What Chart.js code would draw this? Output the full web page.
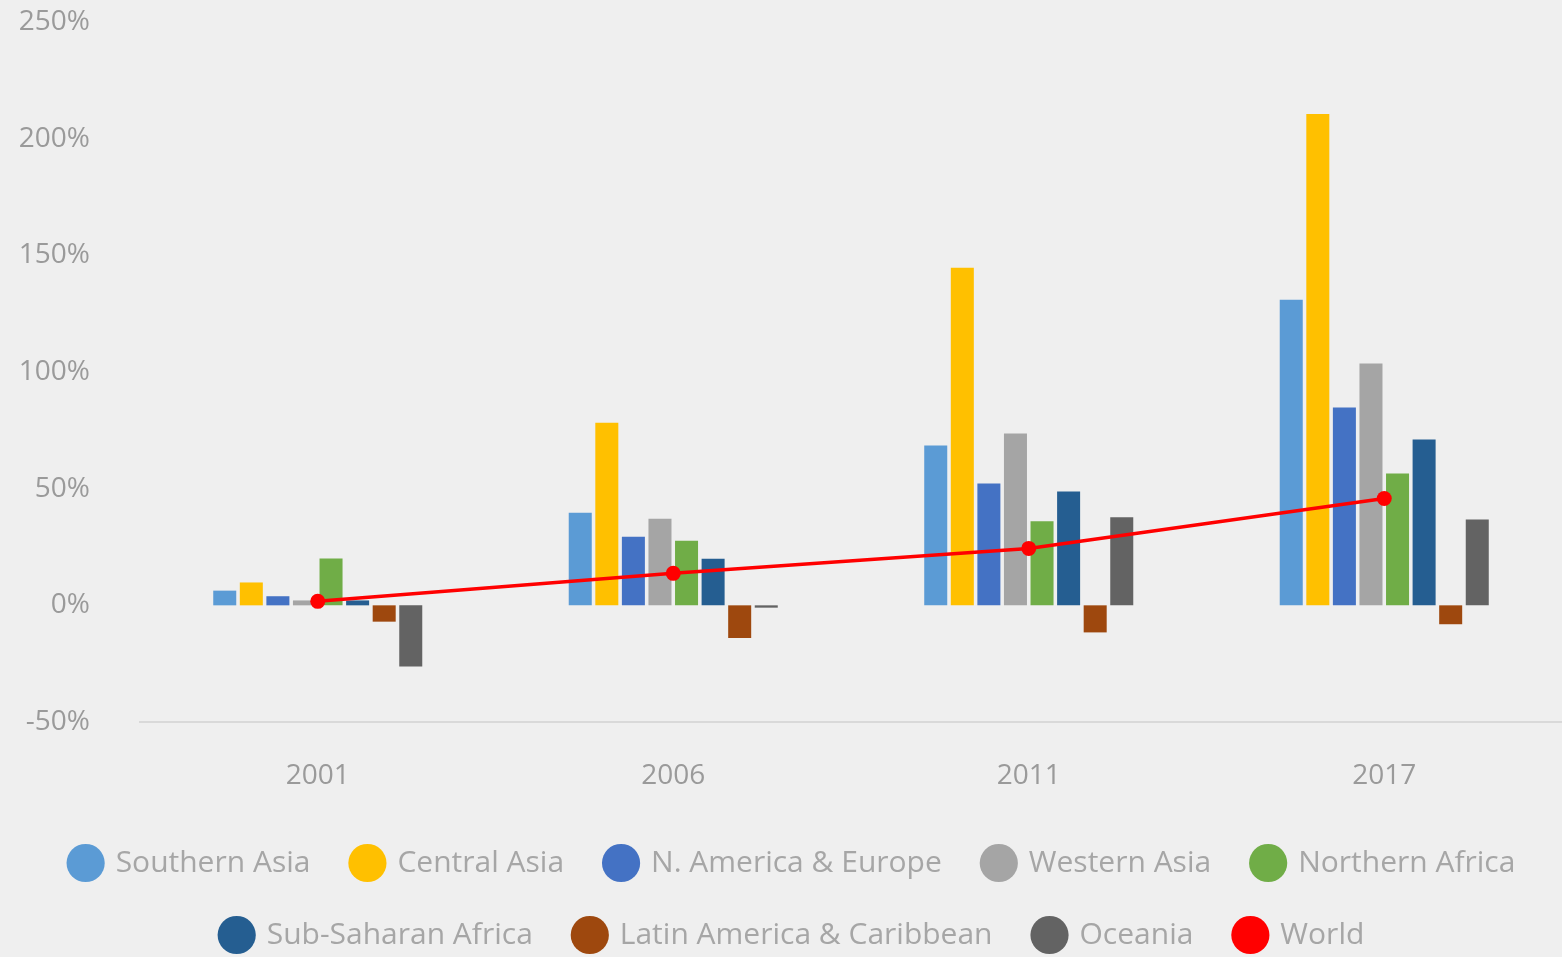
<!DOCTYPE html>
<html>
<head>
<meta charset="utf-8">
<script src="https://cdn.jsdelivr.net/npm/chart.js@4"></script>
<style>
  html, body { margin: 0; padding: 0; background: #efefef; overflow: hidden; }
  #wrap { width: 1562px; height: 957px; position: relative; }
  canvas { display: block; }
</style>
</head>
<body>
<div id="wrap"><canvas id="canvas_chart"></canvas></div>
<script>
var years = ['2001', '2006', '2011', '2017'];

var southernAsia = [6.3, 39.7, 68.5, 131];
var centralAsia = [9.8, 78.2, 144.7, 210.6];
var nAmericaEurope = [3.9, 29.4, 52.2, 84.8];
var westernAsia = [2.1, 37.1, 73.6, 103.6];
var northernAfrica = [20.1, 27.7, 36, 56.5];
var subSaharanAfrica = [2.1, 20, 48.8, 71.1];
var latinAmerica = [-7, -14, -11.6, -8.1];
var oceania = [-26.2, -1, 37.7, 36.8];
var world = [1.7, 13.7, 24.4, 45.8];

var yTicks = [-50, 0, 50, 100, 150, 200, 250];

function bar(label, data, color) {
    return {
        type: 'bar',
        label: label,
        data: data,
        backgroundColor: color,
        borderWidth: 0,
        categoryPercentage: 0.598,
        barPercentage: 0.866,
        order: 2
    };
}

// nudge the legend a bit to the right, like the original
var legendShift = {
    id: 'legendShift',
    afterLayout: function (chart) {
        if (chart.legend) {
            chart.legend.left += 12;
            chart.legend.right += 12;
        }
    }
};

var ctx = document.getElementById('canvas_chart').getContext('2d');
var myChart = new Chart(ctx, {
    data: {
        labels: years,
        datasets: [
            bar('Southern Asia', southernAsia, '#5b9bd5'),
            bar('Central Asia', centralAsia, '#ffc000'),
            bar('N. America & Europe', nAmericaEurope, '#4472c4'),
            bar('Western Asia', westernAsia, '#a5a5a5'),
            bar('Northern Africa', northernAfrica, '#70ad47'),
            bar('Sub-Saharan Africa', subSaharanAfrica, '#255e91'),
            bar('Latin America & Caribbean', latinAmerica, '#9e480e'),
            bar('Oceania', oceania, '#636363'),
            {
                type: 'line',
                label: 'World',
                data: world,
                borderColor: '#ff0000',
                backgroundColor: '#ff0000',
                borderWidth: 3.5,
                pointRadius: 7.5,
                pointBackgroundColor: '#ff0000',
                pointBorderWidth: 0,
                tension: 0,
                order: 1
            }
        ]
    },
    options: {
        responsive: true,
        maintainAspectRatio: false,
        animation: false,
        layout: { autoPadding: false, padding: { top: 22, bottom: 0, left: 0, right: 0 } },
        plugins: {
            tooltip: { enabled: false },
            legend: {
                position: 'bottom',
                maxHeight: 151,
                labels: {
                    usePointStyle: true,
                    pointStyle: 'circle',
                    boxHeight: 27,
                    padding: 42,
                    color: '#a6a6a6',
                    font: { family: 'Open Sans', size: 30 },
                    sort: function (a, b) { return a.datasetIndex - b.datasetIndex; }
                }
            }
        },
        scales: {
            x: {
                grid: { display: false, drawTicks: false },
                border: { display: true, color: '#d9d9d9', width: 2 },
                afterFit: function (axis) {
                    axis.height = 84;
                    axis.paddingLeft = 0;
                    axis.paddingRight = 0;
                },
                ticks: {
                    color: '#9a9a9a',
                    padding: 23,
                    font: { family: 'Open Sans', size: 28, lineHeight: 2.214 }
                }
            },
            y: {
                min: -50,
                max: 250,
                grid: { display: false, drawTicks: false },
                border: { display: false },
                afterBuildTicks: function (axis) {
                    axis.ticks = yTicks.map(function (v) { return { value: v }; });
                },
                afterFit: function (axis) {
                    axis.width = 140;
                    axis.paddingTop = 0;
                    axis.paddingBottom = 0;
                },
                ticks: {
                    color: '#9a9a9a',
                    padding: 50,
                    font: { family: 'Open Sans', size: 28 },
                    callback: function (v) { return v + '%'; }
                }
            }
        }
    },
    plugins: [legendShift]
});
</script>
</body>
</html>
